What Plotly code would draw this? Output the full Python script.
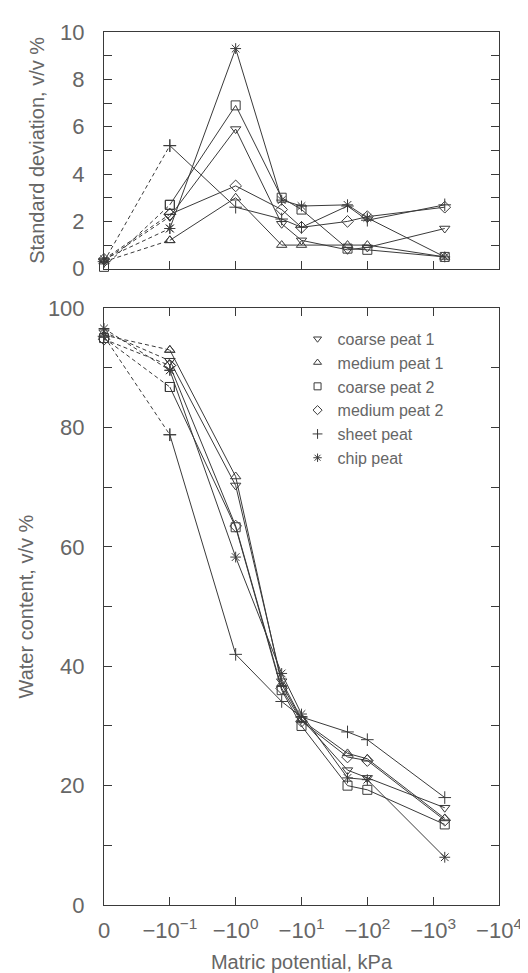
import plotly.graph_objects as go
from plotly.subplots import make_subplots

# ---------------- data ----------------
potential_kpa = [0, -0.1, -1, -5, -10, -50, -100, -1500]

series_names = ["coarse peat 1", "medium peat 1", "coarse peat 2",
                "medium peat 2", "sheet peat", "chip peat"]
series_symbols = ["triangle-down-open", "triangle-up-open", "square-open",
                  "diamond-open", "cross-thin-open", "asterisk-open"]

# standard deviation, v/v %
std_coarse1 = [0.35, 2.2, 5.9, 1.9, 1.2, 0.8, 0.9, 1.7]
std_medium1 = [0.3, 1.2, 3.0, 1.0, 1.0, 1.0, 1.0, 0.5]
std_coarse2 = [0.08, 2.7, 6.9, 3.0, 2.5, 0.85, 0.8, 0.5]
std_medium2 = [0.4, 2.3, 3.5, 2.5, 1.75, 2.0, 2.2, 2.6]
std_sheet = [0.3, 5.2, 2.6, 2.1, 1.75, 2.65, 2.05, 2.7]
std_chip = [0.4, 1.7, 9.3, 2.9, 2.65, 2.7, 2.15, 0.5]

# water content, v/v %
wc_coarse1 = [96.0, 91.2, 70.3, 37.5, 31.2, 22.6, 21.3, 16.3]
wc_medium1 = [95.5, 93.0, 71.8, 37.0, 31.0, 25.4, 24.5, 14.5]
wc_coarse2 = [95.0, 86.8, 63.3, 36.0, 30.0, 20.0, 19.3, 13.5]
wc_medium2 = [94.8, 90.4, 63.5, 36.3, 30.8, 24.8, 24.2, 14.2]
wc_sheet = [95.3, 78.8, 42.0, 34.1, 31.5, 29.0, 27.7, 18.0]
wc_chip = [96.6, 89.6, 58.3, 38.8, 32.0, 21.3, 21.0, 8.0]

x_tick_vals = [0, -0.1, -1, -10, -100, -1000, -10000]
x_tick_text = ["0", "\u221210<sup>\u22121</sup>", "\u221210<sup>0</sup>",
               "\u221210<sup>1</sup>", "\u221210<sup>2</sup>",
               "\u221210<sup>3</sup>", "\u221210<sup>4</sup>"]

std_series = [std_coarse1, std_medium1, std_coarse2, std_medium2, std_sheet, std_chip]
wc_series = [wc_coarse1, wc_medium1, wc_coarse2, wc_medium2, wc_sheet, wc_chip]

# the "0" of the broken log axis sits one decade before -10^-1
ZERO_POS = 0.01


def axis_x(values):
    return [abs(v) if v != 0 else ZERO_POS for v in values]


xs = axis_x(potential_kpa)
tick_x = axis_x(x_tick_vals)

INK = "#3a3a3a"
TXT = "#666666"
FONT = "Liberation Sans"

fig = make_subplots(rows=2, cols=1, shared_xaxes=False)


def add_series(values, symbol, row):
    # dashed segment from 0 to -10^-1
    fig.add_trace(go.Scatter(
        x=xs[:2], y=values[:2], mode="lines+markers",
        line=dict(color=INK, width=1, dash="4px,3px"),
        marker=dict(symbol=symbol, size=9, color=INK, line=dict(color=INK, width=1)),
        showlegend=False, cliponaxis=False), row=row, col=1)
    fig.add_trace(go.Scatter(
        x=xs[1:], y=values[1:], mode="lines+markers",
        line=dict(color=INK, width=1),
        marker=dict(symbol=symbol, size=9, color=INK, line=dict(color=INK, width=1)),
        showlegend=False, cliponaxis=False), row=row, col=1)


for vals, sym in zip(std_series, series_symbols):
    add_series(vals, sym, 1)
for vals, sym in zip(wc_series, series_symbols):
    add_series(vals, sym, 2)

# legend entries (markers only)
for name, sym in zip(series_names, series_symbols):
    fig.add_trace(go.Scatter(
        x=[None], y=[None], mode="markers", name=name,
        marker=dict(symbol=sym, size=7, color=INK, line=dict(color=INK, width=1)),
        showlegend=True), row=2, col=1)

axis_common = dict(showline=True, linecolor=INK, linewidth=1, showgrid=False,
                   zeroline=False, ticks="inside", ticklen=8, tickcolor=INK,
                   tickfont=dict(family=FONT, size=22, color=TXT))
title_font = dict(family=FONT, size=20, color=TXT)

fig.update_xaxes(type="log", range=[-2, 4], tickvals=tick_x, ticktext=x_tick_text,
                 **axis_common)
fig.update_xaxes(row=1, col=1, showticklabels=False, mirror=True)
fig.update_xaxes(row=2, col=1, mirror="ticks", ticklabelstandoff=6,
                 title=dict(text="Matric potential, kPa", standoff=12, font=title_font))

fig.update_yaxes(row=1, col=1, range=[0, 10], tickvals=[0, 2, 4, 6, 8, 10],
                 mirror="ticks", ticklabelstandoff=14,
                 minor=dict(dtick=1, ticks="inside", ticklen=8, tickcolor=INK),
                 title=dict(text="Standard deviation, v/v %", standoff=10, font=title_font),
                 domain=[0.7288, 1.0], **axis_common)
fig.update_yaxes(row=2, col=1, range=[0, 100], tickvals=[0, 20, 40, 60, 80, 100],
                 mirror="ticks", ticklabelstandoff=14,
                 minor=dict(dtick=10, ticks="inside", ticklen=8, tickcolor=INK),
                 title=dict(text="Water content, v/v %", standoff=8, font=title_font),
                 domain=[0.0, 0.6836], **axis_common)

fig.update_layout(
    width=528, height=973,
    margin=dict(l=96, r=37, t=22, b=66),
    paper_bgcolor="white", plot_bgcolor="white",
    showlegend=True,
    legend=dict(x=0.49, y=0.668, xanchor="left", yanchor="top",
                bgcolor="rgba(0,0,0,0)", borderwidth=0,
                font=dict(family=FONT, size=16, color=TXT),
                tracegroupgap=0, itemwidth=30),
)

fig.write_html("out.html")
